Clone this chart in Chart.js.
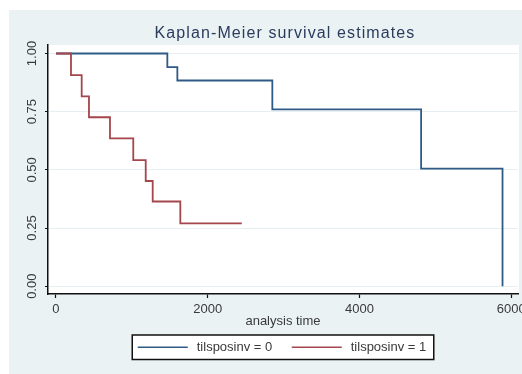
<!DOCTYPE html>
<html>
<head>
<meta charset="utf-8">
<script src="https://cdn.jsdelivr.net/npm/chart.js@4.4.1/dist/chart.umd.min.js"></script>
<style>
  html, body { margin: 0; padding: 0; background: #ffffff; }
  #wrap { width: 522px; height: 374px; }
</style>
</head>
<body>
<div id="wrap"><canvas id="km" width="522" height="374"></canvas></div>
<script>
// Kaplan-Meier survival estimates by tilsposinv group
const chartTitle = 'Kaplan-Meier survival estimates';
const xAxisTitle = 'analysis time';
const groupLabels = ['tilsposinv = 0', 'tilsposinv = 1'];
const groupColors = ['#2f5a85', '#a4464c'];

// group 0: event times and survival after each step
const group0Times = [0, 1468, 1600, 2852, 4813, 5886];
const group0Surv = [1.000, 0.941, 0.884, 0.760, 0.505, 0.000];

// group 1: event times and survival after each step (last point = end of follow-up)
const group1Times = [0, 198, 339, 435, 712, 1019, 1183, 1275, 1639, 2449];
const group1Surv = [1.000, 0.907, 0.816, 0.726, 0.635, 0.542, 0.452, 0.364, 0.270, 0.270];

const xTickValues = [0, 2000, 4000, 6000];
const yTickValues = [0, 0.25, 0.5, 0.75, 1];

const FONT = '"Liberation Sans", Arial, sans-serif';
const TEXT = '#3a3a3a';
const AXIS = '#111111';

Chart.defaults.font.family = FONT;

const toPoints = (times, surv) => times.map((t, i) => ({ x: t, y: surv[i] }));

// light graph region, white plot region
const panelBackground = {
  id: 'panelBackground',
  beforeDraw(chart) {
    const { ctx, chartArea: a, width, height } = chart;
    ctx.save();
    ctx.fillStyle = '#ffffff';
    ctx.fillRect(0, 0, width, height);
    ctx.fillStyle = '#eaf2f3';
    ctx.fillRect(9, 10, width - 9, height - 10);
    ctx.fillStyle = '#ffffff';
    ctx.fillRect(a.left, a.top, a.right - a.left + 1, a.bottom - a.top);
    ctx.restore();
  }
};

// title with slight letter spacing
const spacedTitle = {
  id: 'spacedTitle',
  afterDraw(chart, args, opts) {
    const { ctx, chartArea: a } = chart;
    ctx.save();
    ctx.font = '16px ' + FONT;
    if ('letterSpacing' in ctx) ctx.letterSpacing = '1.1px';
    ctx.fillStyle = '#2a3b5e';
    ctx.textAlign = 'center';
    ctx.textBaseline = 'alphabetic';
    ctx.fillText(opts.text, (a.left + a.right) / 2 + 2, a.top - 6.7);
    ctx.restore();
  }
};

// boxed legend centred under the plot region
const boxedLegend = {
  id: 'boxedLegend',
  afterDraw(chart) {
    const { ctx, chartArea: a } = chart;
    const sets = chart.data.datasets;
    ctx.save();
    ctx.font = '13px ' + FONT;
    const lineLen = 50, gapText = 9, gapItem = 19.5, padL = 5.5, padR = 7.5;
    const widths = sets.map(d => ctx.measureText(d.label).width);
    let total = padL + padR + gapItem * (sets.length - 1);
    widths.forEach(w => { total += lineLen + gapText + w; });
    const boxTop = a.bottom + 41, boxH = 24.5;
    const boxLeft = (a.left + a.right) / 2 - total / 2;
    ctx.fillStyle = '#ffffff';
    ctx.fillRect(boxLeft, boxTop, total, boxH);
    ctx.strokeStyle = AXIS;
    ctx.lineWidth = 1.5;
    ctx.strokeRect(boxLeft, boxTop, total, boxH);
    const cy = boxTop + boxH / 2;
    let x = boxLeft + padL;
    sets.forEach((d, i) => {
      ctx.strokeStyle = d.borderColor;
      ctx.lineWidth = 1.6;
      ctx.beginPath();
      ctx.moveTo(x, cy);
      ctx.lineTo(x + lineLen, cy);
      ctx.stroke();
      x += lineLen + gapText;
      ctx.fillStyle = TEXT;
      ctx.textAlign = 'left';
      ctx.textBaseline = 'middle';
      ctx.fillText(d.label, x, cy + 0.5);
      x += widths[i] + gapItem;
    });
    ctx.restore();
  }
};

new Chart(document.getElementById('km'), {
  type: 'line',
  data: {
    datasets: [
      {
        label: groupLabels[0],
        data: toPoints(group0Times, group0Surv),
        borderColor: groupColors[0],
        borderWidth: 1.8,
        stepped: 'before',
        pointRadius: 0,
        fill: false,
        order: 1
      },
      {
        label: groupLabels[1],
        data: toPoints(group1Times, group1Surv),
        borderColor: groupColors[1],
        borderWidth: 1.8,
        stepped: 'before',
        pointRadius: 0,
        fill: false,
        order: 0
      }
    ]
  },
  options: {
    responsive: false,
    devicePixelRatio: 1,
    animation: false,
    events: [],
    layout: { padding: { top: 45, left: 0, right: 4, bottom: 45.2 } },
    plugins: {
      legend: { display: false },
      tooltip: { enabled: false },
      spacedTitle: { text: chartTitle }
    },
    scales: {
      x: {
        type: 'linear',
        min: -105,
        max: 6090,
        afterBuildTicks: s => { s.ticks = xTickValues.map(v => ({ value: v })); },
        afterFit: s => { s.height = 34.8; s.paddingLeft = 0; s.paddingRight = 0; },
        grid: { drawOnChartArea: false, drawTicks: true, tickLength: 4, tickColor: AXIS, tickWidth: 1.2 },
        border: { color: AXIS, width: 1.5 },
        ticks: {
          padding: 4, color: TEXT, font: { size: 13 },
          minRotation: 0, maxRotation: 0, autoSkip: false,
          callback: v => String(v)
        },
        title: {
          display: true, text: xAxisTitle, color: TEXT,
          font: { size: 13 }, padding: { top: 0, bottom: 0 }
        }
      },
      y: {
        type: 'linear',
        min: -0.0335,
        max: 1.0365,
        afterBuildTicks: s => { s.ticks = yTickValues.map(v => ({ value: v })); },
        afterFit: s => { s.width = 48; s.paddingTop = 0; s.paddingBottom = 0; },
        grid: { color: '#e6eff1', lineWidth: 1, drawTicks: true, tickLength: 3, tickColor: AXIS, tickWidth: 1.2 },
        border: { color: AXIS, width: 1.5 },
        ticks: {
          padding: 0, color: TEXT, font: { size: 13 },
          minRotation: 90, maxRotation: 90, crossAlign: 'center', autoSkip: false,
          callback: v => v.toFixed(2)
        }
      }
    }
  },
  plugins: [panelBackground, spacedTitle, boxedLegend]
});
</script>
</body>
</html>
